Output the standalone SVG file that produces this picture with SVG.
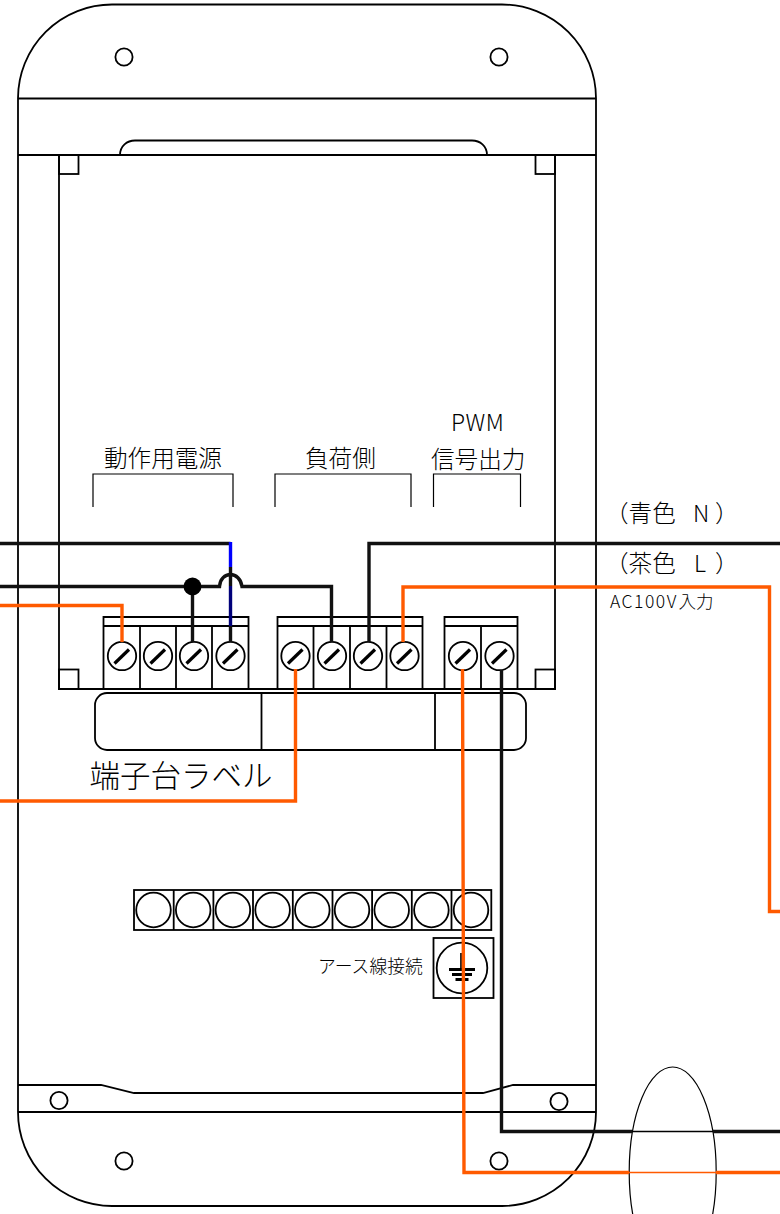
<svg xmlns="http://www.w3.org/2000/svg" width="780" height="1214" viewBox="0 0 780 1214">
<style>
.l{fill:none;stroke:#000;stroke-width:1.8}
.t{fill:none;stroke:#000;stroke-width:1.2}
.h{fill:#fff;stroke:#000;stroke-width:1.8}
.s{stroke:#000;stroke-width:3.2;fill:none}
.o{fill:none;stroke:#ff5a00;stroke-width:3.4}
.k{fill:none;stroke:#111;stroke-width:3.4}
text{font-family:"Noto Sans CJK JP","Liberation Sans",sans-serif;font-weight:300;fill:#000}
</style>
<defs>
<g id="screw"><circle r="14.2" class="h"/><line x1="-7.5" y1="7.5" x2="7" y2="-6.5" class="s"/></g>
<circle id="hole" r="8.6" class="l"/>
<circle id="c2" r="17.3" class="l"/>
</defs>
<g id="enclosure">
<path class="l" d="M18 98A94 94 0 0 1 112 4.500H502A94 94 0 0 1 596 98V1112A94 94 0 0 1 502 1206H112A94 94 0 0 1 18 1112Z"/>
<path class="l" d="M18 98.500H596M18 155H596M18 1112H596M18 1085H101L134 1093H483L513 1085H596"/>
<path class="l" d="M120 155C120 146 127 140.500 135 140.500H472C480 140.500 487 146 487 155"/>
</g>
<g id="inner-panel">
<path class="l" d="M59 155V689H555V155"/>
<rect class="l" x="59" y="155" width="19.500" height="19"/>
<rect class="l" x="535.500" y="155" width="19.500" height="19"/>
<rect class="l" x="59" y="669.500" width="19.500" height="19.500"/>
<rect class="l" x="535.500" y="669.500" width="19.500" height="19.500"/>
</g>
<g id="mount-holes">
<use href="#hole" x="124" y="57"/><use href="#hole" x="499" y="57"/>
<use href="#hole" x="124" y="1161"/><use href="#hole" x="499" y="1161"/>
<use href="#hole" x="59" y="1100.500"/><use href="#hole" x="559" y="1101.500"/>
</g>
<g id="terminal-label">
<rect class="l" x="95" y="693" width="431" height="57" rx="12"/>
<path class="l" d="M261.500 693V750M435 693V750"/>
<text x="89.500" y="787" font-size="30.500">端子台ラベル</text>
</g>
<g id="block-power">
<path class="l" d="M103.500 689V617H248.500V689M103.500 626H248.500M140 626V689M176 626V689M212 626V689"/>
<use href="#screw" x="122" y="656"/><use href="#screw" x="158" y="656"/><use href="#screw" x="194" y="656"/><use href="#screw" x="230.500" y="656"/>
<path class="t" d="M93 507V474H233V507"/>
<text x="104" y="467" font-size="23.600">動作用電源</text>
</g>
<g id="block-load">
<path class="l" d="M277.500 689V617H422.500V689M277.500 626H422.500M313.500 626V689M350 626V689M386.500 626V689"/>
<use href="#screw" x="295.500" y="656"/><use href="#screw" x="332" y="656"/><use href="#screw" x="368" y="656"/><use href="#screw" x="404.500" y="656"/>
<path class="t" d="M275 507V474H411V507"/>
<text x="305" y="467" font-size="23.600">負荷側</text>
</g>
<g id="block-pwm">
<path class="l" d="M444.500 689V617H517.500V689M444.500 626H517.500M481 626V689"/>
<use href="#screw" x="463" y="656"/><use href="#screw" x="499.500" y="656"/>
<path class="t" d="M433.500 507V474H520.500V507"/>
<text x="451" y="431" font-size="23" letter-spacing="0.500">PWM</text>
<text x="431" y="468" font-size="23.600">信号出力</text>
</g>
<g id="terminal-strip">
<rect class="l" x="134" y="890" width="357.300" height="40"/>
<path class="l" d="M173.700 890V930M213.400 890V930M253 890V930M292.800 890V930M332.500 890V930M372.100 890V930M411.800 890V930M451.500 890V930"/>
<use href="#c2" x="153.500" y="910"/><use href="#c2" x="193.200" y="910"/><use href="#c2" x="232.900" y="910"/><use href="#c2" x="272.600" y="910"/><use href="#c2" x="312.300" y="910"/><use href="#c2" x="352" y="910"/><use href="#c2" x="391.700" y="910"/><use href="#c2" x="431.400" y="910"/><use href="#c2" x="471" y="910"/>
</g>
<g id="earth">
<rect class="l" x="433.500" y="938" width="60" height="60"/>
<circle class="l" cx="462" cy="968" r="25.300"/>
<path d="M461 953V969" stroke="#000" stroke-width="1.700"/>
<path d="M449 969.500H475M452 974.500H472M455.500 979.500H468.500" stroke="#000" stroke-width="2.800"/>
<text x="318" y="973" font-size="17.800">アース線接続</text>
</g>
<g id="grommet">
<ellipse class="t" cx="672.700" cy="1172" rx="43.500" ry="105" fill="none"/>
</g>
<g id="connectors">
<path class="k" d="M0 543.500H230.500"/>
<path d="M230.500 542V567" stroke="#0000ff" stroke-width="3.400"/>
<path class="k" d="M230.500 567V586"/>
<path d="M230.500 586V626" stroke="#00007a" stroke-width="3.400"/>
<path class="k" d="M230.500 626V642"/>
<path class="k" d="M0 586.500H219.500C220 579 225 574.500 230.500 574.500C236 574.500 241 579 242 586.500H331.500V642"/>
<path class="k" d="M192.500 586.500V642"/>
<circle cx="192.500" cy="586.500" r="9" fill="#000"/>
<path class="o" d="M0 605.500H122V642"/>
<path class="o" d="M295.500 669V801H0"/>
<path class="k" d="M780 543.500H369V642"/>
<path class="o" d="M403 642V587H769.500V911.500H780"/>
<path class="o" d="M462.500 669L464 1172.500H629M716 1172.500H780"/>
<path class="k" d="M501.500 670V1131.500H632M713 1131.500H780"/>
<path d="M629 1172.500H716" stroke="#ff5a00" stroke-width="1.400"/>
<path d="M632 1131.500H713" stroke="#000" stroke-width="1.400"/>
</g>
<g id="captions">
<text x="605" y="522" font-size="23.600">（青色</text>
<text x="693" y="522" font-size="23">N</text>
<text x="715" y="522" font-size="23.600">）</text>
<text x="605" y="572" font-size="23.600">（茶色</text>
<text x="694" y="572" font-size="23">L</text>
<text x="715" y="572" font-size="23.600">）</text>
<text x="610" y="608" font-size="17.500" letter-spacing="1.500">AC100V</text>
<text x="678.500" y="608" font-size="17.500">入力</text>
</g>
</svg>
